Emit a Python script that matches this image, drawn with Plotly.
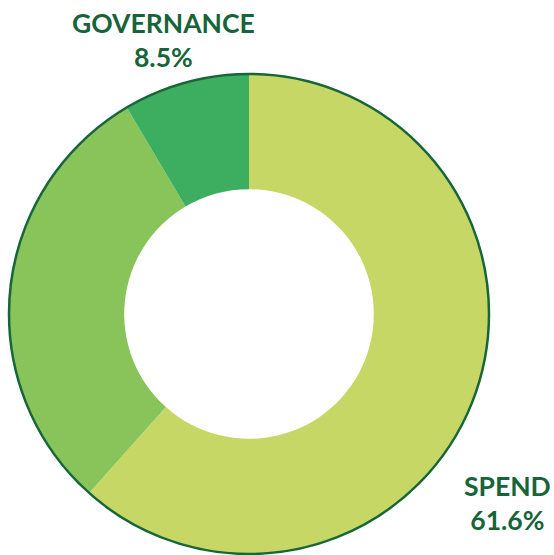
import plotly.graph_objects as go

labels = ["SPEND", "OTHER", "GOVERNANCE"]
values = [61.6, 29.9, 8.5]
colors = ["#C6D765", "#88C45A", "#3DAE5F"]
label_texts = ["GOVERNANCE<br>8.5%", "SPEND<br>61.6%"]

W, H = 554, 555
cx, cy, r = 249, 314, 240  # pixel center & radius

x0 = (cx - r) / W
x1 = (cx + r) / W
y0 = (H - cy - r) / H
y1 = (H - cy + r) / H

fig = go.Figure(go.Pie(
    labels=labels,
    values=values,
    sort=False,
    direction="clockwise",
    rotation=0,
    hole=0.52,
    marker=dict(colors=colors, line=dict(width=0)),
    textinfo="none",
    hoverinfo="label+percent",
    domain=dict(x=[x0, x1], y=[y0, y1]),
    showlegend=False,
))

fig.add_shape(type="circle", xref="paper", yref="paper",
              x0=x0, x1=x1, y0=y0, y1=y1,
              line=dict(color="#17663A", width=2.5), layer="above")

font = dict(family="Lato, Open Sans, sans-serif", size=26.5, color="#17643A")
fig.add_annotation(x=163 / W, y=1 - 40 / H, xref="paper", yref="paper",
                   xanchor="center", yanchor="middle",
                   text="<b>" + label_texts[0] + "</b>", showarrow=False,
                   font=font, align="center")
fig.add_annotation(x=507 / W, y=1 - 503 / H, xref="paper", yref="paper",
                   xanchor="center", yanchor="middle",
                   text="<b>" + label_texts[1] + "</b>", showarrow=False,
                   font=font, align="center")

fig.update_layout(width=W, height=H, margin=dict(l=0, r=0, t=0, b=0),
                  paper_bgcolor="white", plot_bgcolor="white")
fig.write_html("out.html",
               config={"displayModeBar": False},
               post_script="document.body.style.margin='0';document.body.style.overflow='hidden';")
